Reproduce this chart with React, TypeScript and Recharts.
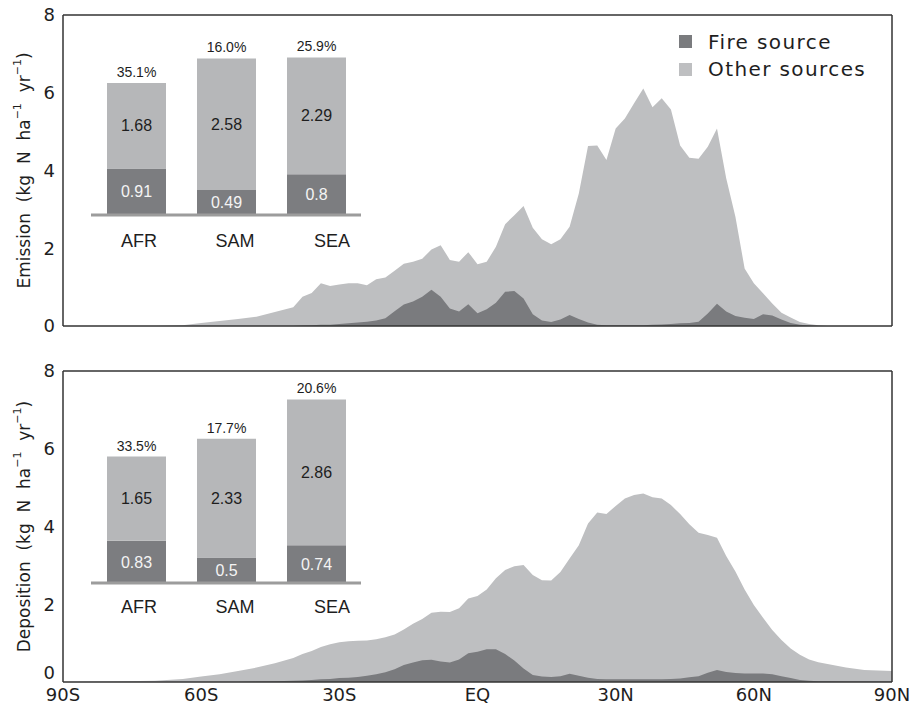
import React from 'react';
import { AreaChart, Area, BarChart, Bar, XAxis, YAxis, Legend, LabelList } from 'recharts';

// latitude grid of the zonal profiles (negative = south)
const latitudes = [
  -90, -80, -70, -64, -60, -56, -52, -48, -44,
  -40, -38, -36, -34, -32, -30, -28, -26, -24, -22,
  -20, -18, -16, -14, -12, -10, -8, -6, -4, -2,
  0, 2, 4, 6, 8, 10, 12, 14, 16, 18,
  20, 22, 24, 26, 28, 30, 32, 34, 36, 38,
  40, 42, 44, 46, 48, 50, 52, 54, 56, 58,
  60, 62, 64, 66, 68, 70, 72, 74, 76,
  80, 84, 90,
];

// kg N ha-1 yr-1, total (fire + other) and fire part
const emissionTotal = [
  0, 0, 0, 0.02, 0.08, 0.13, 0.18, 0.24, 0.36,
  0.48, 0.75, 0.85, 1.1, 1.03, 1.07, 1.1, 1.1, 1.05, 1.2,
  1.25, 1.42, 1.6, 1.65, 1.73, 1.97, 2.08, 1.7, 1.65, 1.9,
  1.59, 1.65, 2.04, 2.62, 2.85, 3.09, 2.53, 2.23, 2.1, 2.23,
  2.55, 3.41, 4.63, 4.64, 4.27, 5.08, 5.34, 5.73, 6.11, 5.63,
  5.86, 5.57, 4.64, 4.33, 4.3, 4.61, 5.08, 3.8, 2.81, 1.48,
  1.1, 0.84, 0.58, 0.34, 0.22, 0.1, 0.05, 0.02, 0,
  0, 0, 0,
];
const emissionFire = [
  0, 0, 0, 0, 0, 0, 0, 0, 0,
  0, 0.01, 0.02, 0.03, 0.03, 0.05, 0.07, 0.09, 0.11, 0.14,
  0.2, 0.38, 0.55, 0.63, 0.75, 0.93, 0.75, 0.45, 0.37, 0.56,
  0.33, 0.43, 0.6, 0.88, 0.9, 0.71, 0.3, 0.14, 0.1, 0.17,
  0.28, 0.18, 0.09, 0.03, 0.02, 0.02, 0.02, 0.02, 0.02, 0.03,
  0.04, 0.05, 0.07, 0.08, 0.11, 0.32, 0.57, 0.37, 0.26, 0.21,
  0.18, 0.3, 0.27, 0.17, 0.08, 0.03, 0.01, 0, 0,
  0, 0, 0,
];
const depositionTotal = [
  0, 0.01, 0.03, 0.08, 0.14, 0.2, 0.28, 0.37, 0.48,
  0.62, 0.72, 0.8, 0.9, 0.97, 1.02, 1.05, 1.06, 1.07, 1.1,
  1.15, 1.22, 1.35, 1.5, 1.62, 1.78, 1.81, 1.8, 1.9, 2.15,
  2.21, 2.38, 2.67, 2.88, 2.98, 3.01, 2.75, 2.62, 2.61, 2.83,
  3.18, 3.52, 4.08, 4.36, 4.32, 4.53, 4.72, 4.81, 4.85, 4.75,
  4.72, 4.55, 4.32, 4.06, 3.84, 3.78, 3.71, 3.24, 2.84, 2.38,
  1.98, 1.65, 1.34, 1.08, 0.86, 0.7, 0.58, 0.51, 0.46,
  0.37, 0.31, 0.28,
];
const depositionFire = [
  0, 0, 0, 0, 0, 0, 0, 0.01, 0.02,
  0.03, 0.04, 0.05, 0.07, 0.08, 0.1, 0.11, 0.13, 0.16, 0.2,
  0.25, 0.33, 0.44, 0.5, 0.56, 0.57, 0.53, 0.5, 0.58, 0.74,
  0.78, 0.84, 0.84, 0.72, 0.55, 0.35, 0.18, 0.14, 0.13, 0.15,
  0.21, 0.16, 0.11, 0.08, 0.07, 0.07, 0.07, 0.07, 0.07, 0.07,
  0.07, 0.08, 0.09, 0.12, 0.15, 0.24, 0.31, 0.26, 0.23, 0.22,
  0.22, 0.22, 0.2, 0.15, 0.1, 0.05, 0.03, 0.02, 0.02,
  0.01, 0.01, 0.01,
];

const yTicks = [0, 2, 4, 6, 8];
const latTicks = [-90, -60, -30, 0, 30, 60, 90];
const innerLatTicks = [-60, -30, 0, 30, 60];

// regional insets
const regions = ['AFR', 'SAM', 'SEA'];
const emissionRegionFire = [0.91, 0.49, 0.8];
const emissionRegionOther = [1.68, 2.58, 2.29];
const emissionRegionShare = ['35.1%', '16.0%', '25.9%'];
const depositionRegionFire = [0.83, 0.5, 0.74];
const depositionRegionOther = [1.65, 2.33, 2.86];
const depositionRegionShare = ['33.5%', '17.7%', '20.6%'];

const legendLabels = ['Fire source', 'Other sources'];

const FIRE = '#7a7b7e';
const OTHER = '#bebfc1';
const BAR_FIRE = '#7c7d80';
const BAR_OTHER = '#b6b7b9';
const FRAME = '#333333';
const INK = '#1e1e1e';
const MAIN_FONT = '"DejaVu Sans", sans-serif';
const INSET_FONT = '"Liberation Sans", Arial, sans-serif';

const legendColors = [FIRE, OTHER];
const regionNudge = [3, 9, 16];

const buildProfile = (total: number[], fire: number[]) =>
  latitudes.map((lat, i) => ({ lat, total: total[i], fire: fire[i] }));

const buildRegions = (fire: number[], other: number[], share: string[]) =>
  regions.map((region, i) => ({ region, fire: fire[i], other: other[i], share: share[i] }));

const emissionData = buildProfile(emissionTotal, emissionFire);
const depositionData = buildProfile(depositionTotal, depositionFire);
const emissionRegions = buildRegions(emissionRegionFire, emissionRegionOther, emissionRegionShare);
const depositionRegions = buildRegions(depositionRegionFire, depositionRegionOther, depositionRegionShare);

const latLabel = (v: number) => (v === 0 ? 'EQ' : `${Math.abs(v)}${v < 0 ? 'S' : 'N'}`);

const AxisTitle = (props: any) => {
  const vb = props.viewBox ?? props;
  const cx = vb.x + 11;
  const cy = vb.y + vb.height / 2;
  return (
    <text
      x={cx}
      y={cy}
      transform={`rotate(-90 ${cx} ${cy})`}
      textAnchor="middle"
      dominantBaseline="central"
      fontFamily={MAIN_FONT}
      fontSize={17}
      fill={INK}
      style={{ whiteSpace: 'pre' }}
    >
      <tspan>{`${props.lead}  (kg  N  ha`}</tspan>
      <tspan dy={-7} fontSize={11}>−1</tspan>
      <tspan dy={7}>{'  yr'}</tspan>
      <tspan dy={-7} fontSize={11}>−1</tspan>
      <tspan dy={7}>)</tspan>
    </text>
  );
};

// value ticks; the zero label of the lower panel sits a little higher to clear 90S
const ValueTick = (props: any) => {
  const { x, y, payload, lift } = props;
  const dy = payload.value === 0 ? -lift : 0;
  return (
    <text x={x} y={y + dy} dy="0.355em" textAnchor="end" fontFamily={MAIN_FONT} fontSize={18} fill={INK}>
      {payload.value}
    </text>
  );
};

const renderLegend = () => (
  <div style={{ fontFamily: MAIN_FONT, fontSize: 20, letterSpacing: 1.4, color: INK }}>
    {legendLabels.map((label, i) => (
      <div key={label} style={{ display: 'flex', alignItems: 'center', height: 27.5 }}>
        <span style={{ width: 13, height: 13, background: legendColors[i], marginRight: 16, display: 'inline-block' }} />
        {label}
      </div>
    ))}
  </div>
);

const RegionTick = (props: any) => {
  const { x, y, payload, index, dy } = props;
  return (
    <text x={x + regionNudge[index]} y={y} dy={dy} textAnchor="middle" fontFamily={INSET_FONT} fontSize={18} fill={INK}>
      {payload.value}
    </text>
  );
};

type PanelProps = {
  data: { lat: number; total: number; fire: number }[];
  title: string;
  height: number;
  marginTop: number;
  axisHeight: number;
  zeroLift: number;
  showLatLabels: boolean;
  showLegend: boolean;
};

const ProfilePanel = ({ data, title, height, marginTop, axisHeight, zeroLift, showLatLabels, showLegend }: PanelProps) => (
  <AreaChart width={909} height={height} data={data} margin={{ top: marginTop, right: 17, bottom: 0, left: 13 }}>
    <Area
      xAxisId="bottom"
      yAxisId="left"
      type="linear"
      dataKey="total"
      name="Other sources"
      fill={OTHER}
      fillOpacity={1}
      stroke="none"
      dot={false}
      activeDot={false}
      isAnimationActive={false}
    />
    <Area
      xAxisId="top"
      yAxisId="right"
      type="linear"
      dataKey="fire"
      name="Fire source"
      fill={FIRE}
      fillOpacity={1}
      stroke="none"
      dot={false}
      activeDot={false}
      isAnimationActive={false}
    />
    <XAxis
      xAxisId="bottom"
      dataKey="lat"
      type="number"
      domain={[-90, 90]}
      ticks={latTicks}
      tickFormatter={latLabel}
      tick={showLatLabels ? { fill: INK, fontSize: 18, fontFamily: MAIN_FONT } : false}
      tickLine={false}
      tickSize={0}
      tickMargin={6}
      height={axisHeight}
      axisLine={{ stroke: FRAME, strokeWidth: 1.5 }}
    />
    <XAxis
      xAxisId="top"
      orientation="top"
      dataKey="lat"
      type="number"
      domain={[-90, 90]}
      ticks={innerLatTicks}
      mirror
      tick={false}
      tickSize={4}
      tickLine={{ stroke: FRAME, strokeWidth: 1.5 }}
      axisLine={{ stroke: FRAME, strokeWidth: 1.5 }}
    />
    <YAxis
      yAxisId="left"
      type="number"
      domain={[0, 8]}
      ticks={yTicks}
      width={50}
      tickLine={false}
      tickSize={0}
      tickMargin={8}
      tick={<ValueTick lift={zeroLift} />}
      axisLine={{ stroke: FRAME, strokeWidth: 1.5 }}
      label={<AxisTitle lead={title} />}
    />
    <YAxis
      yAxisId="right"
      orientation="right"
      type="number"
      domain={[0, 8]}
      ticks={yTicks}
      mirror
      tick={false}
      tickSize={7}
      tickLine={{ stroke: FRAME, strokeWidth: 1.5 }}
      axisLine={{ stroke: FRAME, strokeWidth: 1.5 }}
    />
    {showLegend && (
      <Legend
        layout="horizontal"
        verticalAlign="middle"
        align="center"
        content={renderLegend}
        wrapperStyle={{ top: 28, left: 679, width: 220 }}
      />
    )}
  </AreaChart>
);

type InsetProps = {
  data: { region: string; fire: number; other: number; share: string }[];
  top: number;
  labelDy: number;
};

const RegionInset = ({ data, top, labelDy }: InsetProps) => (
  <div style={{ position: 'absolute', left: 0, top }}>
    <BarChart width={400} height={260} data={data} margin={{ top: 11, right: 39, bottom: 15, left: 91 }} barSize={59}>
      <XAxis
        dataKey="region"
        height={30}
        interval={0}
        tickLine={false}
        tickSize={0}
        axisLine={{ stroke: '#9c9c9c', strokeWidth: 3 }}
        tick={<RegionTick dy={labelDy} />}
      />
      <YAxis hide domain={[0, 4]} />
      <Bar dataKey="fire" stackId="r" fill={BAR_FIRE} isAnimationActive={false}>
        <LabelList dataKey="fire" position="center" fill="#f4f4f4" fontSize={16} fontFamily={INSET_FONT} />
      </Bar>
      <Bar dataKey="other" stackId="r" fill={BAR_OTHER} isAnimationActive={false}>
        <LabelList dataKey="other" position="center" fill={INK} fontSize={16} fontFamily={INSET_FONT} />
        <LabelList dataKey="share" position="top" offset={6} fill={INK} fontSize={14} fontFamily={INSET_FONT} />
      </Bar>
    </BarChart>
  </div>
);

const App = () => (
  <div style={{ position: 'absolute', left: 0, top: 0, width: 909, height: 706, background: '#fff' }}>
    <div style={{ position: 'absolute', left: 0, top: 0 }}>
      <ProfilePanel
        data={emissionData}
        title="Emission"
        height={345}
        marginTop={15}
        axisHeight={19}
        zeroLift={0}
        showLatLabels={false}
        showLegend
      />
    </div>
    <div style={{ position: 'absolute', left: 0, top: 350 }}>
      <ProfilePanel
        data={depositionData}
        title="Deposition"
        height={356}
        marginTop={21}
        axisHeight={24}
        zeroLift={9}
        showLatLabels
        showLegend={false}
      />
    </div>
    <RegionInset data={emissionRegions} top={0} labelDy={30} />
    <RegionInset data={depositionRegions} top={368} labelDy={28} />
  </div>
);

export default App;
